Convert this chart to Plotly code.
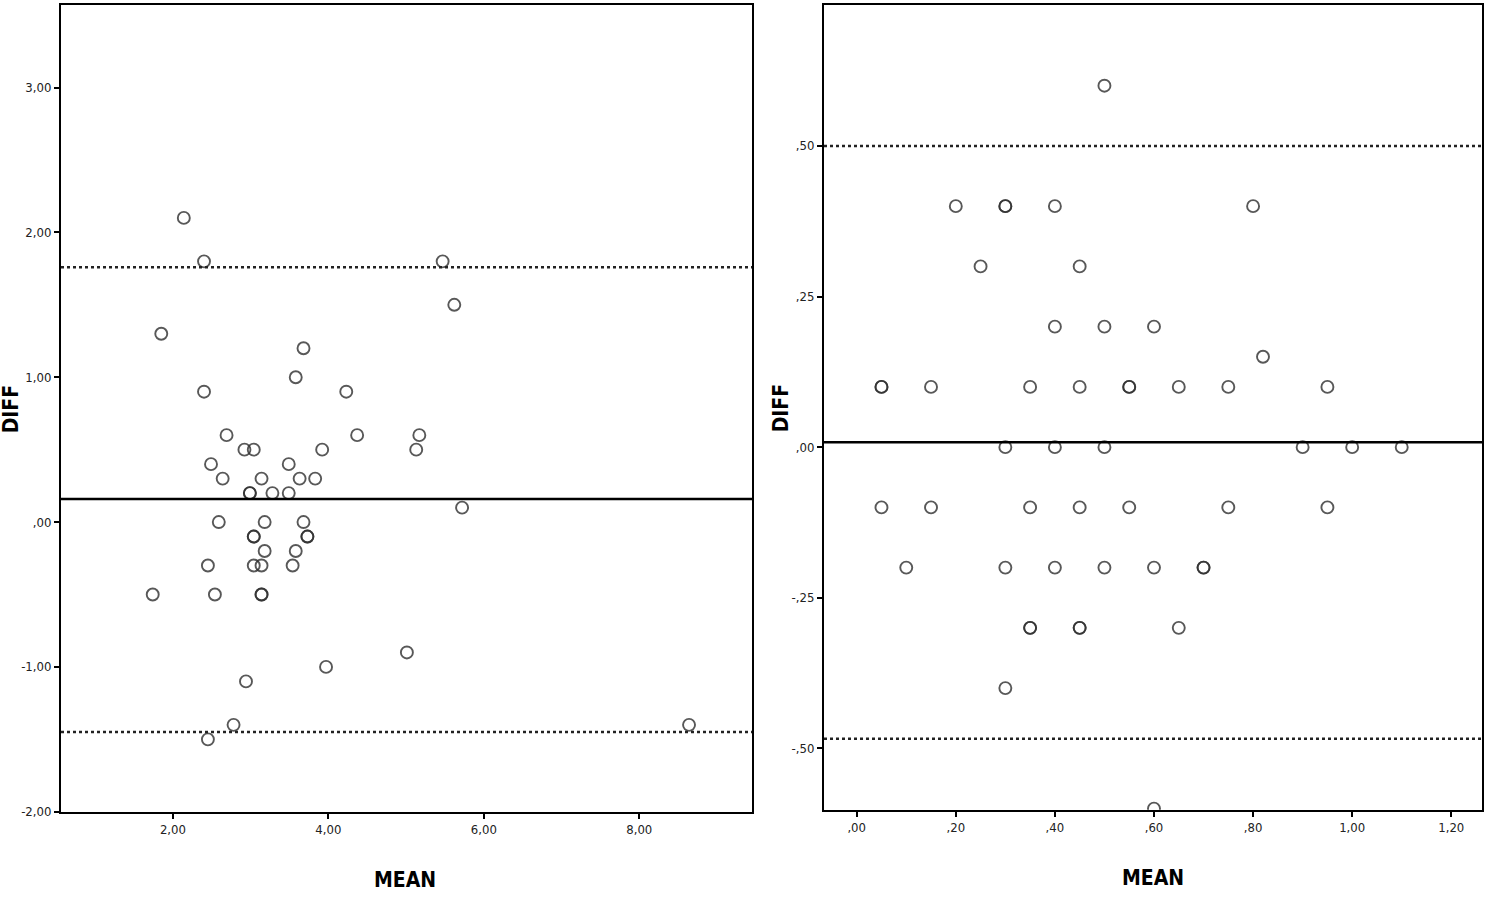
import plotly.graph_objs as go

# Left panel: Bland-Altman data (MEAN vs DIFF)
left_mean = [2.14, 2.40, 5.47, 5.62, 1.85, 3.68, 3.58, 2.40, 4.23, 2.69,
             4.37, 5.17, 2.92, 3.04, 3.92, 5.13, 2.49, 3.49, 2.64, 3.14,
             3.63, 3.83, 2.99, 2.99, 3.28, 3.49, 5.72, 2.59, 3.18, 3.68,
             3.04, 3.04, 3.73, 3.73, 3.18, 3.58, 2.45, 3.04, 3.14, 3.54,
             1.74, 2.54, 3.14, 3.14, 5.01, 3.97, 2.94, 2.78, 8.64, 2.45]
left_diff = [2.10, 1.80, 1.80, 1.50, 1.30, 1.20, 1.00, 0.90, 0.90, 0.60,
             0.60, 0.60, 0.50, 0.50, 0.50, 0.50, 0.40, 0.40, 0.30, 0.30,
             0.30, 0.30, 0.20, 0.20, 0.20, 0.20, 0.10, 0.00, 0.00, 0.00,
             -0.10, -0.10, -0.10, -0.10, -0.20, -0.20, -0.30, -0.30, -0.30, -0.30,
             -0.50, -0.50, -0.50, -0.50, -0.90, -1.00, -1.10, -1.40, -1.40, -1.50]
left_bias = 0.16
left_upper = 1.76
left_lower = -1.45

# Right panel
right_mean = [0.50, 0.20, 0.30, 0.30, 0.40, 0.80, 0.25, 0.45, 0.40, 0.50,
              0.60, 0.82, 0.05, 0.05, 0.15, 0.35, 0.45, 0.55, 0.55, 0.65,
              0.75, 0.95, 0.30, 0.40, 0.50, 0.90, 1.00, 1.10, 0.05, 0.15,
              0.35, 0.45, 0.55, 0.75, 0.95, 0.10, 0.30, 0.40, 0.50, 0.60,
              0.70, 0.70, 0.35, 0.35, 0.45, 0.45, 0.65, 0.30, 0.60]
right_diff = [0.60, 0.40, 0.40, 0.40, 0.40, 0.40, 0.30, 0.30, 0.20, 0.20,
              0.20, 0.15, 0.10, 0.10, 0.10, 0.10, 0.10, 0.10, 0.10, 0.10,
              0.10, 0.10, 0.00, 0.00, 0.00, 0.00, 0.00, 0.00, -0.10, -0.10,
              -0.10, -0.10, -0.10, -0.10, -0.10, -0.20, -0.20, -0.20, -0.20, -0.20,
              -0.20, -0.20, -0.30, -0.30, -0.30, -0.30, -0.30, -0.40, -0.60]
right_bias = 0.008
right_upper = 0.50
right_lower = -0.484

# Tick labels (comma decimals as in the original)
left_xticks = [2, 4, 6, 8]
left_xlabels = ["2,00", "4,00", "6,00", "8,00"]
left_yticks = [-2, -1, 0, 1, 2, 3]
left_ylabels = ["-2,00", "-1,00", ",00", "1,00", "2,00", "3,00"]
right_xticks = [0, 0.2, 0.4, 0.6, 0.8, 1.0, 1.2]
right_xlabels = [",00", ",20", ",40", ",60", ",80", "1,00", "1,20"]
right_yticks = [-0.5, -0.25, 0, 0.25, 0.5]
right_ylabels = ["-,50", "-,25", ",00", ",25", ",50"]

FONT = "Liberation Sans Narrow, Arial Narrow, DejaVu Sans Condensed, sans-serif"

marker = dict(symbol="circle-open", size=12, color="#2e2e2e", opacity=0.8,
              line=dict(width=1.9, color="#2e2e2e"))

data = [
    go.Scatter(x=left_mean, y=left_diff, mode="markers", marker=marker,
               xaxis="x", yaxis="y", showlegend=False),
    go.Scatter(x=right_mean, y=right_diff, mode="markers", marker=marker,
               xaxis="x2", yaxis="y2", showlegend=False),
]


def axis(domain, rng, tickvals, ticktext, anchor):
    return dict(domain=domain, range=rng, tickvals=tickvals, ticktext=ticktext,
                showgrid=False, zeroline=False, showline=True, mirror=True,
                linecolor="black", linewidth=2, ticks="outside", ticklen=5,
                tickwidth=2, tickcolor="black", anchor=anchor,
                tickfont=dict(family=FONT, size=13, color="#222222"))


layout = go.Layout(
    width=1488, height=905,
    margin=dict(l=0, r=0, t=0, b=0),
    paper_bgcolor="white", plot_bgcolor="white",
    xaxis=axis([61 / 1488, 752 / 1488], [0.56, 9.45], left_xticks, left_xlabels, "y"),
    yaxis=axis([1 - 819 / 905, 1 - 5 / 905], [-2.0, 3.57], left_yticks, left_ylabels, "x"),
    xaxis2=axis([824 / 1488, 1482 / 1488], [-0.066, 1.262], right_xticks, right_xlabels, "y2"),
    yaxis2=axis([1 - 817 / 905, 1 - 5 / 905], [-0.602, 0.734], right_yticks, right_ylabels, "x2"),
)

fig = go.Figure(data=data, layout=layout)

# Mean difference and limits of agreement
for xr, yr, bias, lo, hi in [("x domain", "y", left_bias, left_lower, left_upper),
                             ("x2 domain", "y2", right_bias, right_lower, right_upper)]:
    fig.add_shape(type="line", xref=xr, yref=yr, x0=0, x1=1, y0=bias, y1=bias,
                  line=dict(color="black", width=2.5))
    for v in (lo, hi):
        fig.add_shape(type="line", xref=xr, yref=yr, x0=0, x1=1, y0=v, y1=v,
                      line=dict(color="#222222", width=2.5, dash="dot"))

# Axis titles
title_font = dict(family=FONT, size=21, color="black")
titles = [("MEAN", 405, 888, 0), ("MEAN", 1153, 886, 0),
          ("DIFF", 11, 413, -90), ("DIFF", 781, 412, -90)]
for txt, px, py, ang in titles:
    fig.add_annotation(text="<b>%s</b>" % txt, xref="paper", yref="paper",
                       x=px / 1488, y=1 - py / 905, xanchor="center", yanchor="middle",
                       textangle=ang, showarrow=False, font=title_font)

fig.write_html("out.html", config={"displayModeBar": False},
               post_script="document.body.style.margin='0';")
